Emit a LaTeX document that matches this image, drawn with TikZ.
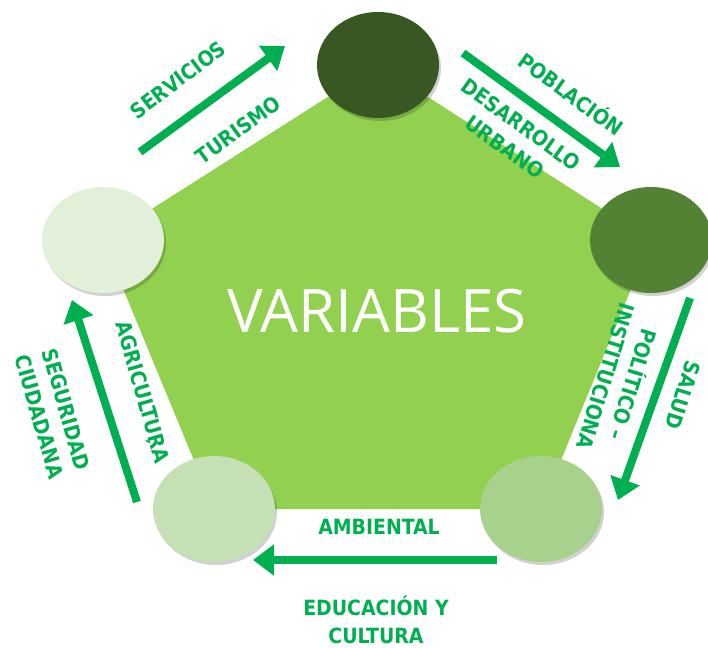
\documentclass[tikz,border=0pt]{standalone}
\usepackage{fontspec}
\usepackage{xcolor}
\usetikzlibrary{shapes.geometric, arrows.meta, shadows}
\newfontfamily\lblfont{DejaVu Sans Condensed}
\newfontfamily\titlefont{Open Sans}
\definecolor{cArrow}{RGB}{0,176,80}
\definecolor{cPenta}{RGB}{146,208,80}
\definecolor{cTop}{RGB}{56,87,35}
\definecolor{cRight}{RGB}{84,130,53}
\definecolor{cLowRight}{RGB}{169,209,142}
\definecolor{cLowLeft}{RGB}{197,224,180}
\definecolor{cLeft}{RGB}{226,240,217}
\tikzset{
	varcirc/.style ={ellipse, minimum width=122pt, minimum height=106pt, inner sep=0pt, drop shadow={shadow xshift=2pt, shadow yshift=-3pt, opacity=0.18, fill=black}},
	lbl/.style     ={font=\lblfont\bfseries\fontsize{21}{28}\selectfont, text=cArrow, align=center, inner sep=0pt},
	bigarrow/.style={-{Triangle[length=21pt, width=30pt]}, line width=8pt, draw=cArrow},
}

\begin{document}
\begin{tikzpicture}[x=1pt, y=-1pt]
	\useasboundingbox (0,0) rectangle (708,647);
	% pentagon corners = circle centres
	\coordinate (pTop) at (378,65);
	\coordinate (pRight) at (651,240);
	\coordinate (pLowRight) at (541,509);
	\coordinate (pLowLeft) at (214,509);
	\coordinate (pLeft) at (103,240);
	\fill[cPenta] (pTop) -- (pRight) -- (pLowRight) -- (pLowLeft) -- (pLeft) -- cycle;
	\node[font=\titlefont\fontsize{60}{61}\selectfont, text=white, inner sep=0pt] (title) at (377,311) {VARIABLES};

	% labels
	\node[lbl, rotate=37] (servicios) at (178,80) {SERVICIOS};
	\node[lbl, rotate=36] (turismo) at (238,130) {TURISMO};
	\node[lbl, rotate=-36] (poblacion) at (572,93) {POBLACIÓN};
	\node[lbl, rotate=-36] (desarrollo) at (513,136) {DESARROLLO\\URBANO};
	\node[lbl, rotate=-107] (salud) at (683,395) {SALUD};
	\node[lbl, rotate=-107] (politico) at (621,381) {POLÍTICO –\\INSTITUCIONA};
	\node[lbl] (ambiental) at (379,527) {AMBIENTAL};
	\node[lbl] (educacion) at (376,620) {EDUCACIÓN Y\\CULTURA};
	\node[lbl, rotate=-74] (agricultura) at (143,392) {AGRICULTURA};
	\node[lbl, rotate=-74] (acento) at (142,443) {´};
	\node[lbl, rotate=-74] (seguridad) at (53,413) {SEGURIDAD\\CIUDADANA};

	% arrows
	\coordinate (a1s) at (140,152); \coordinate (a1e) at (285,46);
	\coordinate (a2s) at (463,53);  \coordinate (a2e) at (620,167);
	\coordinate (a3s) at (690,298); \coordinate (a3e) at (618,500);
	\coordinate (a4s) at (497,560); \coordinate (a4e) at (253,560);
	\coordinate (a5s) at (137,502); \coordinate (a5e) at (72,300);
	\foreach \s/\e in {a1s/a1e, a2s/a2e, a3s/a3e, a4s/a4e, a5s/a5e}
		\draw[bigarrow] (\s) -- (\e);

	% circles
	\node[varcirc, fill=cTop] (cTopC) at (pTop) {};
	\node[varcirc, fill=cRight] (cRightC) at (pRight) {};
	\node[varcirc, fill=cLowRight] (cLowRightC) at (pLowRight) {};
	\node[varcirc, fill=cLowLeft] (cLowLeftC) at (pLowLeft) {};
	\node[varcirc, fill=cLeft] (cLeftC) at (pLeft) {};
\end{tikzpicture}
\end{document}
